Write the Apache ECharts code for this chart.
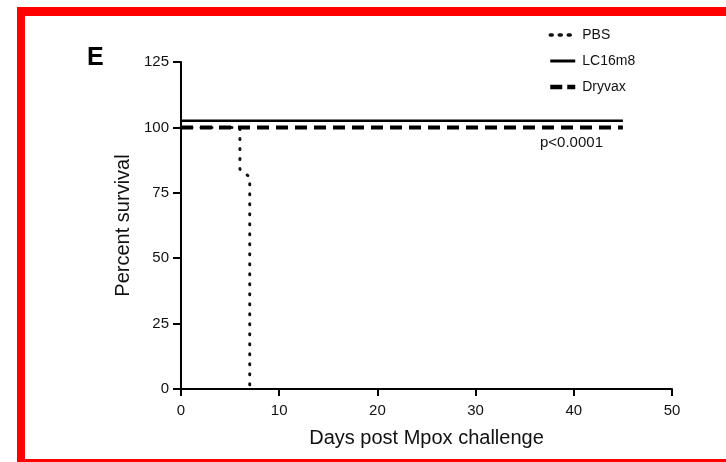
<!DOCTYPE html>
<html>
<head>
<meta charset="utf-8">
<script src="https://cdn.jsdelivr.net/npm/echarts@6/dist/echarts.min.js"></script>
<style>
	html, body { margin: 0; padding: 0; background: #fff; }
	#chart { width: 726px; height: 462px; }
</style>
</head>
<body>
<div id="chart"></div>
<script>
// 数据
var seriesNames = ['PBS', 'LC16m8', 'Dryvax']
var pbsPoints = [[0, 100], [6, 100], [6, 84], [7, 81], [7, 0]]
var lc16m8Points = [[0, 102.5], [45, 102.5]]
var dryvaxPoints = [[0, 100], [45, 100]]
var xTicks = [0, 10, 20, 30, 40, 50]
var yTicks = [0, 25, 50, 75, 100, 125]

var font = 'Liberation Sans, Arial, sans-serif'
var chart = echarts.init(document.getElementById('chart'))

var option = {
	backgroundColor: '#fff',
	animation: false,
	color: ['#000', '#000', '#000'],
	grid: { left: 181, right: 54, top: 62, bottom: 73 },
	legend: {
		orient: 'vertical',
		left: 543,
		top: 23,
		itemWidth: 25,
		itemHeight: 12,
		itemGap: 12,
		itemStyle: { opacity: 0 },
		textStyle: { fontFamily: font, fontSize: 14, color: '#111', padding: [0, 0, 0, 2] },
		data: [
			{ name: seriesNames[0], lineStyle: { width: 3.5, type: [2, 7], cap: 'round' } },
			{ name: seriesNames[1], lineStyle: { width: 3 } },
			{ name: seriesNames[2], lineStyle: { width: 4.5, type: [12, 5] } }
		]
	},
	xAxis: {
		type: 'value',
		min: 0,
		max: 50,
		interval: 10,
		name: 'Days post Mpox challenge',
		nameLocation: 'middle',
		nameGap: 39,
		nameTextStyle: { fontFamily: font, fontSize: 20, color: '#111' },
		axisLine: { show: true, lineStyle: { color: '#000', width: 2 } },
		axisTick: { show: true, length: 7, lineStyle: { color: '#000', width: 2 } },
		axisLabel: { fontFamily: font, fontSize: 15, color: '#111', margin: 14 },
		splitLine: { show: false }
	},
	yAxis: {
		type: 'value',
		min: 0,
		max: 125,
		interval: 25,
		name: 'Percent survival',
		nameLocation: 'middle',
		nameGap: 46,
		nameTextStyle: { fontFamily: font, fontSize: 20, color: '#111' },
		axisLine: { show: true, lineStyle: { color: '#000', width: 2 } },
		axisTick: { show: true, length: 8, lineStyle: { color: '#000', width: 2 } },
		axisLabel: { fontFamily: font, fontSize: 15, color: '#111', margin: 12 },
		splitLine: { show: false }
	},
	series: [
		{
			name: 'PBS',
			type: 'line',
			data: pbsPoints,
			showSymbol: false,
			symbol: 'none',
			z: 1,
			itemStyle: { color: '#000' },
			lineStyle: { color: '#111', width: 3, type: [1, 9], cap: 'round' }
		},
		{
			name: 'LC16m8',
			type: 'line',
			data: lc16m8Points,
			showSymbol: false,
			symbol: 'none',
			z: 3,
			itemStyle: { color: '#000' },
			lineStyle: { color: '#000', width: 2.5, type: 'solid' }
		},
		{
			name: 'Dryvax',
			type: 'line',
			data: dryvaxPoints,
			showSymbol: false,
			symbol: 'none',
			z: 2,
			itemStyle: { color: '#000' },
			lineStyle: { color: '#000', width: 4, type: [12, 7] }
		}
	],
	graphic: [
		// 红色边框
		{ type: 'rect', left: 17, top: 7, shape: { width: 709, height: 9 }, style: { fill: '#ff0000' } },
		{ type: 'rect', left: 17, top: 7, shape: { width: 8, height: 455 }, style: { fill: '#ff0000' } },
		{ type: 'rect', left: 17, top: 459, shape: { width: 709, height: 3 }, style: { fill: '#ff0000' } },
		{ type: 'text', left: 87, top: 46, style: { text: 'E', font: 'bold 25px ' + font, fill: '#000' } },
		{ type: 'text', left: 540, top: 135, style: { text: 'p<0.0001', font: '15px ' + font, fill: '#111' } }
	]
}
chart.setOption(option)
</script>
</body>
</html>
